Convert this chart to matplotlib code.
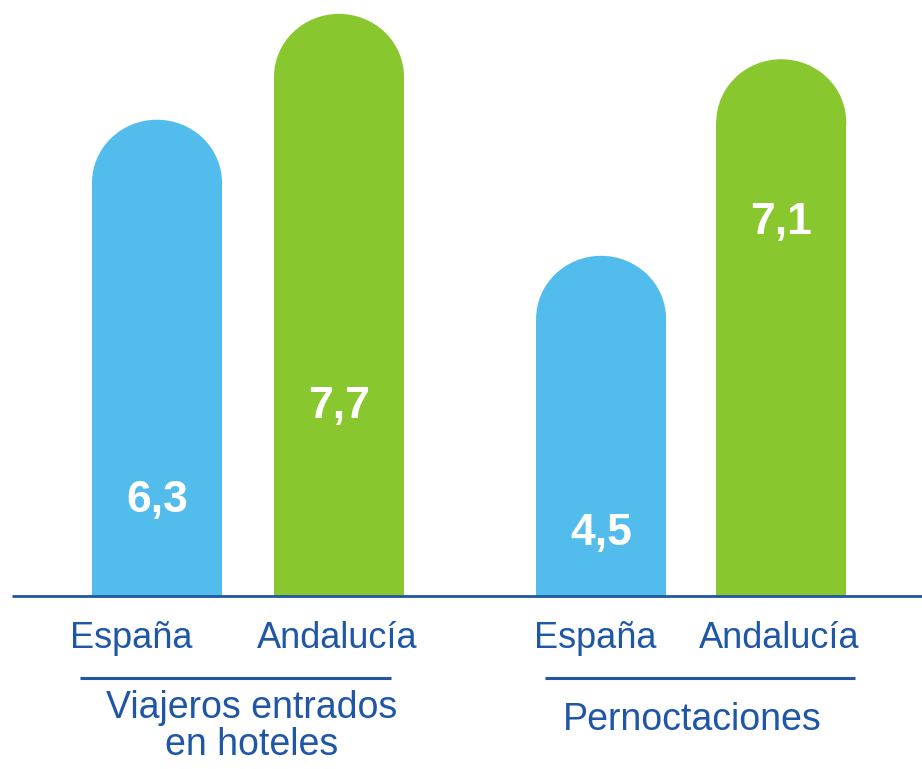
import numpy as np
import matplotlib.pyplot as plt
from matplotlib.patches import Rectangle, Ellipse

# Data
categories = ['España', 'Andalucía', 'España', 'Andalucía']
values = [6.3, 7.7, 4.5, 7.1]
value_labels = ['6,3', '7,7', '4,5', '7,1']
groups = [['Viajeros entrados', 'en hoteles'], ['Pernoctaciones']]

blue = '#52BCEC'
green = '#88C72E'
navy = '#1F56A5'
colors = [blue, green, blue, green]

plt.rcParams['font.family'] = ['Liberation Sans', 'DejaVu Sans']

fig = plt.figure(figsize=(9.22, 7.69), dpi=100)
ax = fig.add_axes([0, 0, 1, 1])

# pixel scale: 1 unit in x = 182 px, 1 unit in y = 75.6 px
px_x = 182.0
px_y = 75.6
ax.set_xlim(-157 / px_x, (922 - 157) / px_x)
ax.set_ylim(-173 / px_y, (769 - 173) / px_y)
ax.axis('off')

x = np.array([0, 1, 2.44, 3.43])
width = 130 / px_x
cap = 63 / px_y  # vertical radius of rounded top

for xi, v, c in zip(x, values, colors):
    ax.add_patch(Rectangle((xi - width / 2, 0), width, v - cap, color=c, lw=0))
    ax.add_patch(Ellipse((xi, v - cap), width, 2 * cap, color=c, lw=0))

# value labels, placed at a fraction of the bar height
label_frac = [0.20, 0.325, 0.185, 0.695]
for xi, v, lab, f in zip(x, values, value_labels, label_frac):
    ax.text(xi, v * f, lab, ha='center', va='center', color='white',
            fontsize=32, fontweight='bold')

# baseline
ax.plot([(12 - 157) / px_x, (922 - 157) / px_x], [0, 0], color=navy, lw=2,
        solid_capstyle='butt')

# category labels
cat_shift = [-0.14, -0.01, -0.03, -0.01]
for xi, cat, s in zip(x, categories, cat_shift):
    ax.text(xi + s, -42 / px_y, cat, ha='center', va='center', color=navy,
            fontsize=26)

# group underlines and labels (one text per line)
line_ext = [(80, 391), (545, 855)]
group_cx = [252, 692]
group_y0 = [-112, -124]   # first line centre, px below the baseline
line_step = 37
for (a, b), lines, gx, gy in zip(line_ext, groups, group_cx, group_y0):
    ax.plot([(a - 157) / px_x, (b - 157) / px_x], [-82 / px_y] * 2,
            color=navy, lw=2.2, solid_capstyle='butt')
    for i, ln in enumerate(lines):
        ax.text((gx - 157) / px_x, (gy - i * line_step) / px_y, ln,
                ha='center', va='center', color=navy, fontsize=27)

fig.savefig('out.png', dpi=100)
